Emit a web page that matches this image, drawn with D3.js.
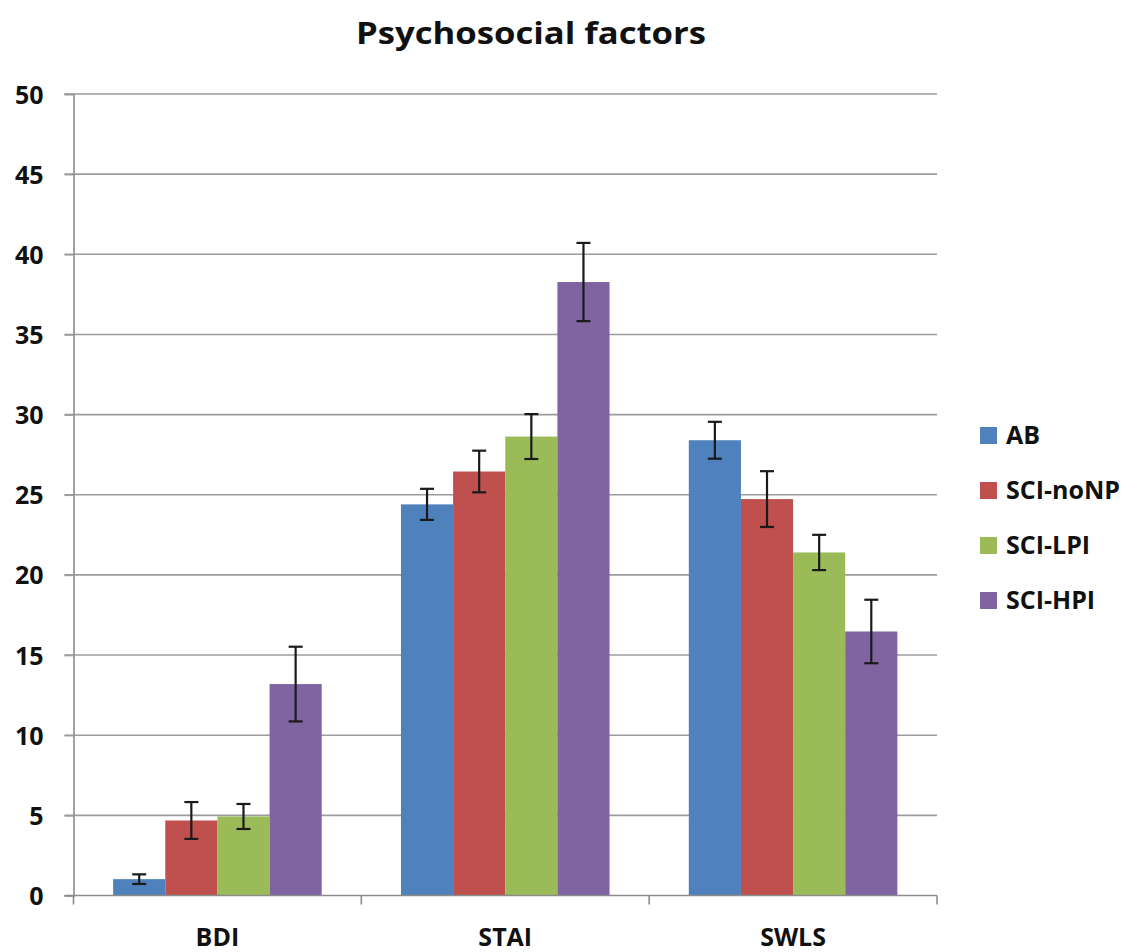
<!DOCTYPE html>
<html>
<head>
<meta charset="utf-8">
<script src="https://cdn.jsdelivr.net/npm/d3@7"></script>
<style>
  body { margin: 0; background: #fff; }
  svg { display: block; }
</style>
</head>
<body>
<script>
const categories = ['BDI', 'STAI', 'SWLS']
const groups = ['AB', 'SCI-noNP', 'SCI-LPI', 'SCI-HPI']
const colors = ['#4F81BD', '#C0504D', '#9BBB59', '#8064A2']

// means per group, in category order
const abValues = [1.02, 24.4, 28.4]
const noNPValues = [4.68, 26.45, 24.73]
const lpiValues = [4.93, 28.63, 21.4]
const hpiValues = [13.19, 38.27, 16.47]

// error bar half widths
const abErr = [0.3, 0.97, 1.15]
const noNPErr = [1.15, 1.3, 1.74]
const lpiErr = [0.78, 1.4, 1.1]
const hpiErr = [2.33, 2.44, 1.98]

const yTicks = [0, 5, 10, 15, 20, 25, 30, 35, 40, 45, 50]

const seriesValues = [abValues, noNPValues, lpiValues, hpiValues]
const seriesErr = [abErr, noNPErr, lpiErr, hpiErr]

const width = 1143, height = 952
const margin = {left: 73.5, right: 1143 - 937, top: 94, bottom: 952 - 895.5}
const font = '"Open Sans", Lato, sans-serif'

const svg = d3.select('body').append('svg')
    .attr('width', width)
    .attr('height', height)

const x = d3.scaleBand()
    .domain(categories)
    .range([margin.left, width - margin.right])
    .paddingInner(0)
    .paddingOuter(0)

// excel gap width ~150%: 4 touching bars, gap split on both sides
const xInner = d3.scaleBand()
    .domain(groups)
    .range([0, x.bandwidth()])
    .paddingInner(0)
    .paddingOuter(0.76)

const y = d3.scaleLinear()
    .domain([0, 50])
    .range([height - margin.bottom, margin.top])

// gridlines
svg.append('g')
    .selectAll('line')
    .data(yTicks.filter(d => d > 0))
    .join('line')
    .attr('x1', margin.left - 9)
    .attr('x2', width - margin.right)
    .attr('y1', d => y(d))
    .attr('y2', d => y(d))
    .attr('stroke', '#9c9c9c')
    .attr('stroke-width', 1.6)

// y axis
const yAxis = svg.append('g')
    .attr('transform', `translate(${margin.left},0)`)
    .call(d3.axisLeft(y).tickValues(yTicks).tickSize(9).tickPadding(21))
yAxis.select('.domain').attr('stroke', '#8c8c8c').attr('stroke-width', 1.6)
yAxis.selectAll('.tick line').attr('stroke', '#9c9c9c').attr('stroke-width', 1.6)
yAxis.selectAll('.tick text')
    .attr('font-family', font)
    .attr('font-weight', 'bold')
    .attr('font-size', 25)
    .attr('fill', '#111')
    .attr('dy', '0.36em')

// bars
const barLayer = svg.append('g')
groups.forEach((g, gi) => {
    barLayer.append('g')
        .selectAll('rect')
        .data(categories.map((c, ci) => ({c, v: seriesValues[gi][ci]})))
        .join('rect')
        .attr('x', d => x(d.c) + xInner(g))
        .attr('width', xInner.bandwidth())
        .attr('y', d => y(d.v))
        .attr('height', d => y(0) - y(d.v))
        .attr('fill', colors[gi])
})

// x axis
const xAxisG = svg.append('g')
    .attr('transform', `translate(0,${y(0)})`)
xAxisG.append('line')
    .attr('x1', margin.left - 9)
    .attr('x2', width - margin.right)
    .attr('stroke', '#8c8c8c')
    .attr('stroke-width', 1.6)
xAxisG.selectAll('.sep')
    .data(categories.map(c => x(c)).concat([width - margin.right]))
    .join('line')
    .attr('class', 'sep')
    .attr('x1', d => d)
    .attr('x2', d => d)
    .attr('y1', 0)
    .attr('y2', 9)
    .attr('stroke', '#8c8c8c')
    .attr('stroke-width', 1.6)
xAxisG.selectAll('text')
    .data(categories)
    .join('text')
    .attr('x', d => x(d) + x.bandwidth() / 2)
    .attr('y', 50)
    .attr('text-anchor', 'middle')
    .attr('font-family', font)
    .attr('font-weight', 'bold')
    .attr('font-size', 25)
    .attr('fill', '#111')
    .text(d => d)

// error bars
const errLayer = svg.append('g')
    .attr('stroke', '#1a1a1a')
    .attr('stroke-width', 2.2)
groups.forEach((g, gi) => {
    categories.forEach((c, ci) => {
        const cx = x(c) + xInner(g) + xInner.bandwidth() / 2
        const v = seriesValues[gi][ci], e = seriesErr[gi][ci]
        errLayer.append('line')
            .attr('x1', cx).attr('x2', cx)
            .attr('y1', y(v + e)).attr('y2', y(v - e))
        ;[v + e, v - e].forEach(t => {
            errLayer.append('line')
                .attr('x1', cx - 7).attr('x2', cx + 7)
                .attr('y1', y(t)).attr('y2', y(t))
        })
    })
})

// title
svg.append('text')
    .attr('x', 531)
    .attr('y', 44)
    .attr('text-anchor', 'middle')
    .attr('font-family', font)
    .attr('font-weight', 'bold')
    .attr('font-size', 31)
    .attr('fill', '#111')
    .attr('textLength', 350)
    .attr('lengthAdjust', 'spacingAndGlyphs')
    .text('Psychosocial factors')

// legend
const legend = svg.append('g')
    .attr('transform', 'translate(980,427)')
const item = legend.selectAll('g')
    .data(groups)
    .join('g')
    .attr('transform', (d, i) => `translate(0,${i * 55})`)
item.append('rect')
    .attr('width', 17)
    .attr('height', 17)
    .attr('fill', (d, i) => colors[i])
item.append('text')
    .attr('x', 26)
    .attr('y', 17)
    .attr('font-family', font)
    .attr('font-weight', 'bold')
    .attr('font-size', 25)
    .attr('fill', '#111')
    .text(d => d)
</script>
</body>
</html>
